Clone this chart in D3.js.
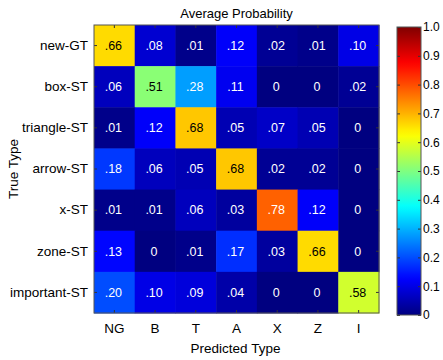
<!DOCTYPE html>
<html>
<head>
<meta charset="utf-8">
<script src="https://cdn.jsdelivr.net/npm/d3@7"></script>
<style>
  body { margin: 0; background: #fff; }
  text { font-family: "Liberation Sans", Arial, sans-serif; }
</style>
</head>
<body>
<svg id="chart" width="443" height="360"></svg>
<script>
// confusion matrix data
const trueTypes = ["new-GT", "box-ST", "triangle-ST", "arrow-ST", "x-ST", "zone-ST", "important-ST"];
const predTypes = ["NG", "B", "T", "A", "X", "Z", "I"];
const probs = [
  [0.66, 0.08, 0.01, 0.12, 0.02, 0.01, 0.10],
  [0.06, 0.51, 0.28, 0.11, 0, 0, 0.02],
  [0.01, 0.12, 0.68, 0.05, 0.07, 0.05, 0],
  [0.18, 0.06, 0.05, 0.68, 0.02, 0.02, 0],
  [0.01, 0.01, 0.06, 0.03, 0.78, 0.12, 0],
  [0.13, 0, 0.01, 0.17, 0.03, 0.66, 0],
  [0.20, 0.10, 0.09, 0.04, 0, 0, 0.58],
];
const cbTicks = [0, 0.1, 0.2, 0.3, 0.4, 0.5, 0.6, 0.7, 0.8, 0.9, 1.0];

// matlab-ish jet colormap
function jet(v) {
  const c = (t) => Math.max(0, Math.min(1, 1.5 - Math.abs(4 * v - t)));
  return d3.rgb(255 * c(3), 255 * c(2), 255 * c(1)).toString();
}

const svg = d3.select("#chart");
const pL = 94, pT = 25, pR = 379, pB = 313;

const x = d3.scaleBand().domain(predTypes).range([pL, pR]);
const y = d3.scaleBand().domain(trueTypes).range([pT, pB]);

const cells = [];
probs.forEach((row, i) => row.forEach((v, j) => cells.push({ r: trueTypes[i], c: predTypes[j], v })));

svg.append("g").selectAll("rect").data(cells).join("rect")
  .attr("x", (d) => x(d.c))
  .attr("y", (d) => y(d.r))
  .attr("width", x.bandwidth() + 0.5)
  .attr("height", y.bandwidth() + 0.5)
  .attr("fill", (d) => jet(d.v));

const fmt = (v) => (v === 0 ? "0" : d3.format(".2f")(v).replace(/^0/, ""));
svg.append("g").selectAll("text").data(cells).join("text")
  .attr("x", (d) => x(d.c) + x.bandwidth() / 2 - 1)
  .attr("y", (d) => y(d.r) + y.bandwidth() / 2 + 1)
  .attr("text-anchor", "middle")
  .attr("dominant-baseline", "middle")
  .attr("font-size", 12.5)
  .attr("fill", (d) => (d.v > 0.45 && d.v < 0.72 ? "#000" : "#fff"))
  .text((d) => fmt(d.v));

// frame + inward ticks (matlab style)
const tk = 3;
const axStyle = (fs) => (g) => {
  g.select(".domain").remove();
  g.selectAll("line").attr("stroke", "#333");
  g.selectAll("text").attr("font-size", fs).attr("fill", "#000");
};
svg.append("g").attr("transform", `translate(0,${pB})`)
  .call(d3.axisBottom(x).tickSizeInner(-tk).tickSizeOuter(0).tickPadding(10))
  .call(axStyle(13.5));
svg.append("g").attr("transform", `translate(0,${pT})`)
  .call(d3.axisTop(x).tickSizeInner(-tk).tickSizeOuter(0).tickFormat(""))
  .call(axStyle(13.5));
svg.append("g").attr("transform", `translate(${pL},0)`)
  .call(d3.axisLeft(y).tickSizeInner(-tk).tickSizeOuter(0).tickPadding(6))
  .call(axStyle(13.5));
svg.append("g").attr("transform", `translate(${pR},0)`)
  .call(d3.axisRight(y).tickSizeInner(-tk).tickSizeOuter(0).tickFormat(""))
  .call(axStyle(13.5));
svg.append("rect")
  .attr("x", pL).attr("y", pT)
  .attr("width", pR - pL).attr("height", pB - pT)
  .attr("fill", "none").attr("stroke", "#555").attr("stroke-width", 1);

// titles
svg.append("text").attr("x", (pL + pR) / 2).attr("y", 18)
  .attr("text-anchor", "middle").attr("font-size", 13).text("Average Probability");
svg.append("text").attr("x", (pL + pR) / 2 - 1).attr("y", 353)
  .attr("text-anchor", "middle").attr("font-size", 13.5).text("Predicted Type");
svg.append("text").attr("transform", `translate(18,${(pT + pB) / 2}) rotate(-90)`)
  .attr("text-anchor", "middle").attr("font-size", 13.5).text("True Type");

// colorbar
const cbL = 397, cbR = 421, cbT = 27, cbB = 315;
const cy = d3.scaleLinear().domain([0, 1]).range([cbB, cbT]);
const defs = svg.append("defs");
const grad = defs.append("linearGradient").attr("id", "jetgrad")
  .attr("x1", 0).attr("y1", 1).attr("x2", 0).attr("y2", 0);
grad.selectAll("stop").data(d3.range(0, 1.0001, 0.02)).join("stop")
  .attr("offset", (d) => d)
  .attr("stop-color", (d) => jet(d));
svg.append("rect").attr("x", cbL).attr("y", cbT)
  .attr("width", cbR - cbL).attr("height", cbB - cbT)
  .attr("fill", "url(#jetgrad)");
svg.append("g").attr("transform", `translate(${cbR},0)`)
  .call(d3.axisRight(cy).tickValues(cbTicks).tickSizeInner(-tk).tickSizeOuter(0).tickPadding(2)
    .tickFormat((d) => (d === 0 ? "0" : d3.format(".1f")(d))))
  .call(axStyle(12));
svg.append("g").attr("transform", `translate(${cbL},0)`)
  .call(d3.axisLeft(cy).tickValues(cbTicks).tickSizeInner(-tk).tickSizeOuter(0).tickFormat(""))
  .call(axStyle(12));
svg.append("rect").attr("x", cbL).attr("y", cbT)
  .attr("width", cbR - cbL).attr("height", cbB - cbT)
  .attr("fill", "none").attr("stroke", "#555");
</script>
</body>
</html>
